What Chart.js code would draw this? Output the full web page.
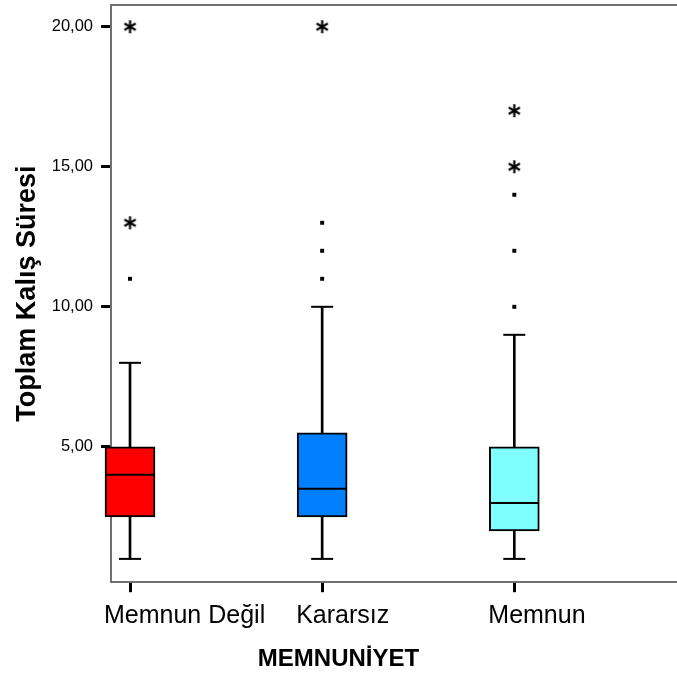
<!DOCTYPE html>
<html><head><meta charset="utf-8">
<script src="https://cdn.jsdelivr.net/npm/chart.js@4"></script>
<style>html,body{margin:0;padding:0;background:#fff}</style>
</head><body>
<canvas id="c" width="677" height="675"></canvas>
<script>
const categories = ['Memnun Değil', 'Kararsız', 'Memnun'];
const whiskerLow = [1, 1, 1];
const q1 = [2.5, 2.5, 2];
const medians = [4, 3.5, 3];
const q3 = [5, 5.5, 5];
const whiskerHigh = [8, 10, 9];
const outliers = [[11], [11, 12, 13], [10, 12, 14]];
const extremes = [[13, 20], [20], [15, 17]];
const yTicks = [5, 10, 15, 20];
const boxColors = ['#ff0000', '#0080ff', '#80ffff'];

const FAMILY = "'Liberation Sans', Arial, sans-serif";
Chart.defaults.font.family = FAMILY;
Chart.defaults.color = '#000';

function makeStar() {
  const c = document.createElement('canvas');
  c.width = 15; c.height = 15;
  const g = c.getContext('2d');
  g.strokeStyle = '#000'; g.lineWidth = 2.2;
  const cx = 7.5, cy = 7.5, r = 6.5;
  for (const a of [90, 30, 150]) {
    const t = a * Math.PI / 180;
    g.beginPath();
    g.moveTo(cx - r * Math.cos(t), cy - r * Math.sin(t));
    g.lineTo(cx + r * Math.cos(t), cy + r * Math.sin(t));
    g.stroke();
  }
  return c;
}
const star = makeStar();

const boxData = categories.map((c, i) => ({ x: i + 1, y: [q1[i], q3[i]] }));
const whiskerData = categories.map((c, i) => ({ x: i + 1, y: [whiskerLow[i], whiskerHigh[i]] }));
const capData = [];
categories.forEach((c, i) => { capData.push({ x: i + 1, y: whiskerLow[i] }, { x: i + 1, y: whiskerHigh[i] }); });
const medianData = categories.map((c, i) => ({ x: i + 1, y: medians[i] }));
const outlierData = [];
outliers.forEach((arr, i) => arr.forEach(v => outlierData.push({ x: i + 1, y: v })));
const extremeData = [];
extremes.forEach((arr, i) => arr.forEach(v => extremeData.push({ x: i + 1, y: v })));

const gridOpts = { offset: false, drawOnChartArea: false, drawTicks: true, tickLength: 10, tickWidth: 3, tickColor: '#000' };
const borderOpts = { display: true, color: '#707070', width: 2 };
function noPad(s) { s.paddingTop = 0; s.paddingBottom = 0; s.paddingLeft = 0; s.paddingRight = 0; }

new Chart(document.getElementById('c'), {
  type: 'bar',
  data: {
    datasets: [
      { type: 'bar', data: whiskerData, backgroundColor: '#000', borderWidth: 0, barThickness: 2, grouped: false, order: 3, clip: false },
      { type: 'bar', data: boxData, backgroundColor: boxColors, borderColor: '#000', borderWidth: 2, borderSkipped: false, barThickness: 50, grouped: false, order: 2, clip: false },
      { type: 'scatter', data: capData, pointStyle: 'line', radius: 11, borderWidth: 2, borderColor: '#000', order: 1, clip: false },
      { type: 'scatter', data: medianData, pointStyle: 'line', radius: 24, borderWidth: 2, borderColor: '#000', order: 1, clip: false },
      { type: 'scatter', data: outlierData, pointStyle: 'rect', radius: 2.8, backgroundColor: '#000', borderWidth: 0, order: 0, clip: false },
      { type: 'scatter', data: extremeData, pointStyle: star, radius: 7, order: 0, clip: false }
    ]
  },
  options: {
    responsive: false,
    animation: false,
    events: [],
    devicePixelRatio: 1,
    layout: { padding: 0, autoPadding: false },
    plugins: {
      legend: { display: false },
      tooltip: { enabled: false },
      title: {
        display: true, position: 'bottom', align: 'center', text: 'MEMNUNİYET',
        font: { size: 24, weight: 'bold' }, color: '#000', padding: { top: 0, bottom: 1 }
      }
    },
    scales: {
      x: {
        type: 'linear', min: 0.9011, max: 3.8467, offset: false, bounds: 'data',
        afterBuildTicks: s => { s.ticks = categories.map((c, i) => ({ value: i + 1 })); },
        afterFit: s => { s.height = 63; noPad(s); },
        ticks: {
          callback: v => categories[Math.round(v) - 1] ?? '',
          align: 'start', labelOffset: -26, autoSkip: false, maxRotation: 0, minRotation: 0,
          font: { size: 25 }, padding: 9, color: '#000'
        },
        grid: gridOpts,
        border: borderOpts
      },
      xTop: {
        type: 'linear', position: 'top', min: 0, max: 1, display: true,
        afterFit: s => { s.height = 5; noPad(s); },
        ticks: { display: false },
        grid: { offset: false, drawOnChartArea: false, drawTicks: false },
        border: borderOpts
      },
      y: {
        type: 'linear', min: 0.168, max: 20.775, bounds: 'data',
        afterBuildTicks: s => { s.ticks = yTicks.map(v => ({ value: v })); },
        afterFit: s => { s.width = 111; noPad(s); },
        ticks: {
          callback: v => Number(v).toFixed(2).replace('.', ','),
          font: { size: 16.5 }, padding: 8, color: '#000'
        },
        grid: gridOpts,
        border: borderOpts,
        title: {
          display: true, text: 'Toplam Kalış Süresi', color: '#000',
          font: { size: 27, weight: 'bold' }, padding: { top: 11, bottom: 0 }
        }
      }
    }
  }
});
</script>
</body></html>
